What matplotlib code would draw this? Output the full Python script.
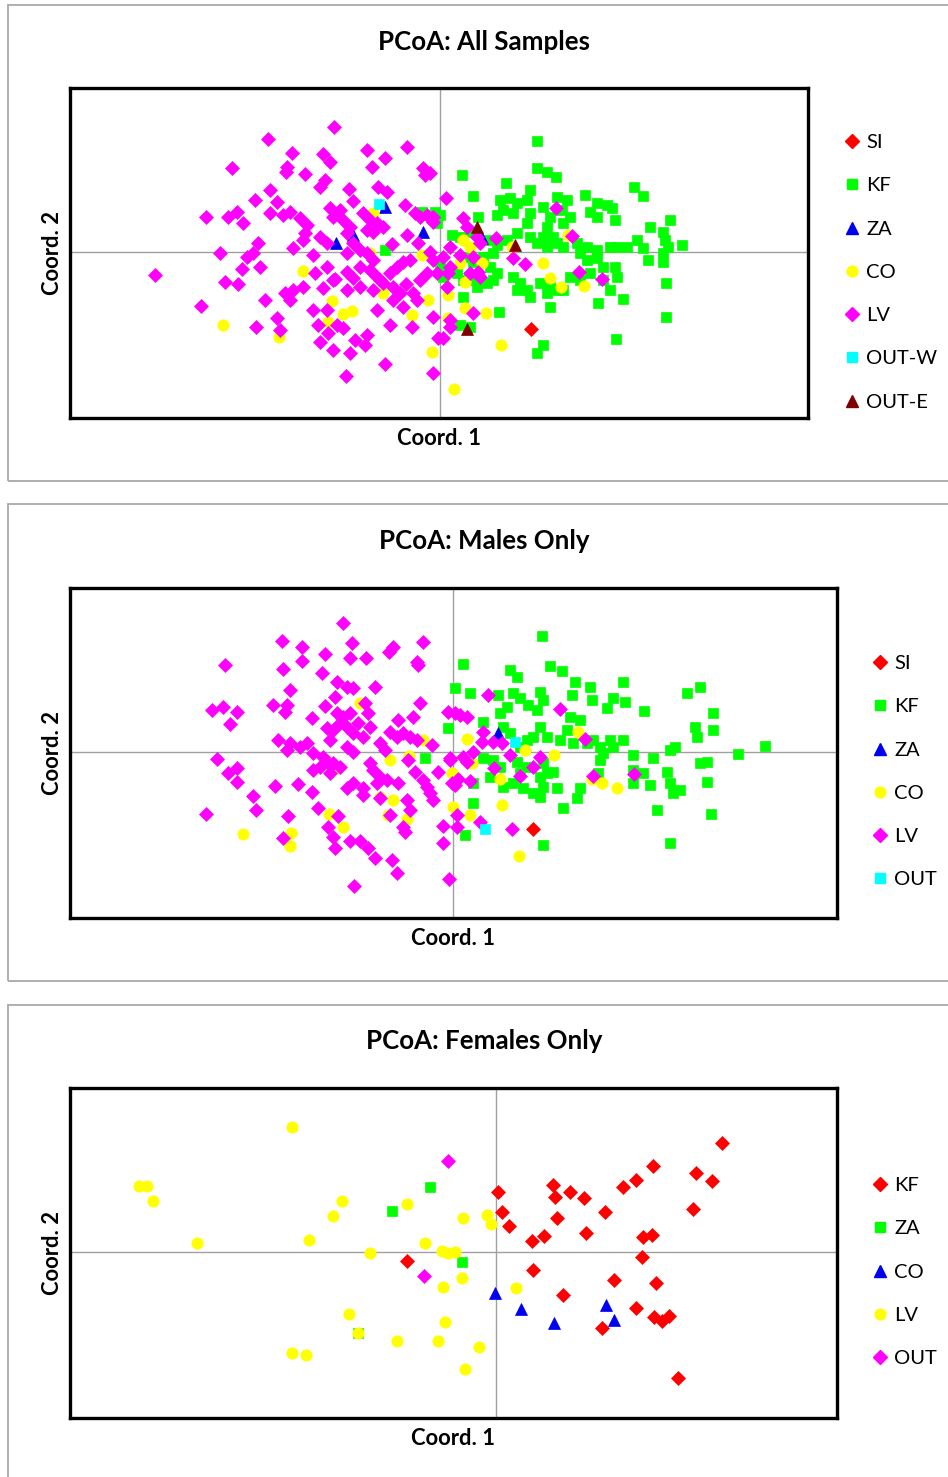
import numpy as np
import matplotlib
matplotlib.use("Agg")
import matplotlib.pyplot as plt
from matplotlib.lines import Line2D
from matplotlib.patches import Rectangle

# ---------------------------------------------------------------- data
# PCoA: All Samples  (Coord. 1, Coord. 2)
all_si = [(0.091, -0.077)]
all_kf = [(-0.055, 0.002), (-0.018, 0.040), (-0.005, 0.040), (0.097, 0.111), (0.022, 0.077),
          (0.097, 0.084), (0.107, 0.080), (0.116, 0.075), (0.066, 0.069), (0.033, 0.056),
          (0.090, 0.062), (0.194, 0.065), (0.203, 0.056), (0.060, 0.052), (0.070, 0.054),
          (0.077, 0.049), (0.063, 0.042), (0.057, 0.037), (0.073, 0.039), (0.087, 0.052),
          (0.090, 0.039), (0.087, 0.029), (0.117, 0.055), (0.127, 0.052), (0.122, 0.042),
          (0.130, 0.035), (0.123, 0.029), (0.145, 0.057), (0.157, 0.049), (0.167, 0.047),
          (0.172, 0.044), (0.150, 0.040), (0.157, 0.035), (0.175, 0.032), (0.038, 0.035),
          (0.103, 0.045), (0.110, 0.035), (0.107, 0.025), (0.113, 0.015), (0.103, 0.015),
          (0.230, 0.032), (0.210, 0.025), (0.223, 0.020), (0.225, 0.012), (0.228, 0.005),
          (0.242, 0.007), (-0.003, 0.029), (0.000, 0.037), (0.012, 0.017), (0.020, 0.015),
          (0.030, 0.020), (0.047, 0.012), (0.057, 0.007), (0.067, 0.012), (0.077, 0.019),
          (0.090, 0.015), (0.097, 0.009), (0.107, 0.005), (0.117, 0.009), (0.123, 0.005),
          (0.137, 0.009), (0.147, 0.005), (0.157, 0.002), (0.170, 0.005), (0.177, 0.005),
          (0.187, 0.005), (0.197, 0.012), (0.203, 0.004), (0.208, -0.008), (0.223, -0.001),
          (0.223, -0.010), (0.140, -0.001), (0.147, -0.008), (0.157, -0.006), (0.163, -0.015),
          (0.175, -0.015), (0.027, -0.005), (0.033, -0.010), (0.043, -0.005), (0.053, -0.001),
          (0.050, -0.015), (0.057, -0.021), (0.053, -0.028), (0.047, -0.031), (0.017, -0.021),
          (0.023, -0.028), (0.033, -0.028), (0.037, -0.035), (0.073, -0.025), (0.080, -0.031),
          (0.087, -0.038), (0.090, -0.045), (0.077, -0.038), (0.100, -0.031), (0.107, -0.041),
          (0.117, -0.038), (0.123, -0.038), (0.110, -0.035), (0.130, -0.025), (0.140, -0.028),
          (0.150, -0.021), (0.163, -0.028), (0.170, -0.038), (0.177, -0.025), (0.023, -0.045),
          (0.110, -0.055), (0.158, -0.051), (0.183, -0.047), (0.226, -0.031), (0.226, -0.065),
          (0.059, -0.060), (0.020, -0.073), (0.030, -0.075), (0.103, -0.093), (0.097, -0.101),
          (0.176, -0.087), (0.000, -0.015), (0.003, -0.025)]
all_za = [(-0.104, 0.009), (-0.017, 0.020), (-0.087, 0.017), (-0.055, 0.045), (0.042, 0.014)]
all_co = [(-0.217, -0.073), (-0.161, -0.085), (-0.137, -0.019), (-0.108, -0.049), (-0.097, -0.062),
          (-0.088, -0.059), (-0.112, -0.070), (-0.067, 0.039), (-0.018, -0.003), (-0.012, -0.048),
          (-0.028, -0.063), (-0.008, -0.100), (-0.070, -0.001), (-0.057, -0.041), (0.023, 0.012),
          (0.030, 0.005), (0.020, -0.011), (0.042, -0.011), (0.025, -0.030), (0.008, -0.043),
          (0.025, -0.056), (0.046, -0.061), (0.008, -0.066), (0.061, -0.093), (0.014, -0.137),
          (0.103, -0.011), (0.110, -0.026), (0.121, -0.035), (0.144, -0.034), (0.128, 0.017),
          (0.072, 0.005)]
all_lv = [(-0.106, 0.125), (-0.172, 0.113), (-0.033, 0.105), (-0.148, 0.099), (-0.117, 0.098),
          (-0.110, 0.090), (-0.073, 0.102), (-0.055, 0.094), (-0.208, 0.084), (-0.153, 0.085),
          (-0.154, 0.080), (-0.135, 0.078), (-0.068, 0.085), (-0.017, 0.084), (-0.015, 0.077),
          (-0.115, 0.072), (-0.120, 0.065), (-0.170, 0.062), (-0.091, 0.063), (-0.062, 0.065),
          (-0.053, 0.060), (-0.185, 0.052), (-0.163, 0.050), (-0.170, 0.039), (-0.150, 0.040),
          (-0.157, 0.037), (-0.087, 0.051), (-0.035, 0.047), (-0.203, 0.040), (-0.212, 0.035),
          (-0.197, 0.029), (-0.234, 0.035), (-0.140, 0.034), (-0.133, 0.027), (-0.135, 0.019),
          (-0.137, 0.012), (-0.110, 0.044), (-0.100, 0.042), (-0.107, 0.035), (-0.097, 0.032),
          (-0.090, 0.025), (-0.093, 0.019), (-0.077, 0.039), (-0.070, 0.032), (-0.063, 0.029),
          (-0.057, 0.025), (-0.073, 0.022), (-0.067, 0.020), (-0.025, 0.039), (-0.020, 0.035),
          (-0.013, 0.037), (-0.033, 0.017), (-0.022, 0.009), (-0.182, 0.009), (-0.147, 0.004),
          (-0.120, 0.015), (-0.113, 0.009), (-0.127, -0.003), (-0.087, 0.009), (-0.080, 0.002),
          (-0.093, -0.001), (-0.073, -0.001), (-0.067, -0.008), (-0.048, 0.008), (-0.220, -0.001),
          (-0.193, -0.005), (-0.187, -0.001), (-0.010, 0.000), (-0.007, -0.008), (-0.198, -0.017),
          (-0.285, -0.023), (-0.180, -0.015), (-0.125, -0.021), (-0.113, -0.015), (-0.107, -0.028),
          (-0.093, -0.020), (-0.087, -0.026), (-0.080, -0.015), (-0.070, -0.018), (-0.063, -0.025),
          (-0.057, -0.031), (-0.050, -0.021), (-0.043, -0.015), (-0.037, -0.010), (-0.030, -0.008),
          (-0.047, -0.035), (-0.040, -0.041), (-0.034, -0.032), (-0.027, -0.041), (-0.020, -0.028),
          (-0.013, -0.021), (-0.215, -0.030), (-0.202, -0.032), (-0.147, -0.038), (-0.137, -0.035),
          (-0.117, -0.036), (-0.105, -0.027), (-0.093, -0.038), (-0.080, -0.035), (-0.067, -0.038),
          (-0.060, -0.028), (-0.175, -0.048), (-0.155, -0.041), (-0.150, -0.048), (-0.047, -0.048),
          (-0.037, -0.055), (-0.023, -0.048), (-0.239, -0.054), (-0.127, -0.058), (-0.113, -0.058),
          (-0.063, -0.058), (-0.007, -0.065), (-0.163, -0.066), (-0.160, -0.078), (-0.184, -0.075),
          (-0.122, -0.073), (-0.112, -0.081), (-0.103, -0.073), (-0.097, -0.076), (-0.050, -0.073),
          (-0.028, -0.075), (-0.120, -0.090), (-0.107, -0.098), (-0.090, -0.101), (-0.085, -0.088),
          (-0.075, -0.093), (-0.073, -0.083), (-0.002, -0.086), (-0.055, -0.112), (-0.007, -0.121),
          (-0.094, -0.124), (0.006, 0.054), (0.116, 0.044), (0.132, 0.016), (0.139, -0.020),
          (0.162, -0.027), (0.056, 0.014), (0.073, -0.006), (0.085, -0.012), (0.023, 0.034),
          (0.027, 0.025), (0.037, 0.015), (0.040, 0.009), (0.033, -0.005), (0.010, 0.005),
          (0.003, -0.005), (-0.003, -0.021), (0.020, -0.003), (0.010, -0.015), (0.008, -0.021),
          (0.007, -0.035), (0.030, -0.021), (0.038, -0.020), (0.040, -0.025), (0.033, -0.061),
          (0.010, -0.068), (0.010, -0.075), (0.003, -0.086), (-0.010, 0.079), (-0.007, 0.035),
          (-0.007, 0.030)]
all_out_w = [(-0.061, 0.048)]
all_out_e = [(0.037, 0.025), (0.075, 0.007), (0.027, -0.077)]

# PCoA: Males Only
male_si = [(0.080, -0.077)]
male_kf = [(0.002, 0.064), (-0.005, 0.024), (-0.028, -0.006), (0.089, 0.116), (0.010, 0.088),
           (0.057, 0.082), (0.064, 0.075), (0.097, 0.086), (0.109, 0.081), (0.122, 0.070),
           (0.137, 0.065), (0.170, 0.070), (0.017, 0.059), (0.045, 0.057), (0.060, 0.059),
           (0.067, 0.054), (0.087, 0.060), (0.090, 0.052), (0.075, 0.047), (0.119, 0.057),
           (0.139, 0.052), (0.160, 0.054), (0.172, 0.050), (0.154, 0.044), (0.234, 0.059),
           (0.247, 0.065), (0.260, 0.039), (0.260, 0.022), (0.242, 0.025), (0.244, 0.015),
           (0.191, 0.041), (0.030, 0.030), (0.047, 0.039), (0.054, 0.045), (0.050, 0.025),
           (0.057, 0.019), (0.084, 0.042), (0.087, 0.025), (0.080, 0.015), (0.094, 0.015),
           (0.074, 0.012), (0.067, 0.005), (0.117, 0.035), (0.127, 0.032), (0.114, 0.022),
           (0.107, 0.012), (0.120, 0.009), (0.134, 0.009), (0.140, 0.012), (0.147, 0.005),
           (0.157, 0.012), (0.170, 0.012), (0.160, 0.005), (0.150, -0.001), (0.180, -0.003),
           (0.200, -0.006), (0.217, 0.002), (0.222, 0.005), (0.285, -0.002), (0.312, 0.006),
           (0.247, -0.011), (0.254, -0.010), (0.030, -0.006), (0.040, -0.008), (0.037, -0.025),
           (0.047, -0.015), (0.064, -0.010), (0.067, -0.021), (0.074, -0.015), (0.090, -0.011),
           (0.094, -0.021), (0.100, -0.020), (0.087, -0.025), (0.090, -0.035), (0.147, -0.008),
           (0.145, -0.021), (0.180, -0.018), (0.190, -0.021), (0.180, -0.031), (0.197, -0.033),
           (0.214, -0.020), (0.217, -0.031), (0.220, -0.041), (0.227, -0.038), (0.254, -0.030),
           (0.050, -0.035), (0.060, -0.031), (0.070, -0.036), (0.080, -0.041), (0.087, -0.045),
           (0.104, -0.036), (0.127, -0.036), (0.124, -0.046), (0.020, -0.031), (0.020, -0.051),
           (0.110, -0.056), (0.204, -0.058), (0.258, -0.062), (0.012, -0.083), (0.090, -0.093),
           (0.217, -0.091)]
male_za = [(0.045, 0.019)]
male_co = [(-0.093, 0.049), (-0.030, 0.012), (-0.063, -0.008), (-0.044, -0.004), (-0.001, -0.021),
           (-0.060, -0.048), (-0.073, -0.045), (0.000, -0.055), (-0.065, -0.063), (-0.046, -0.067),
           (-0.124, -0.062), (-0.110, -0.075), (-0.210, -0.082), (-0.162, -0.081), (-0.163, -0.094),
           (-0.116, -0.016), (0.014, 0.013), (0.019, -0.011), (0.072, 0.002), (0.101, -0.003),
           (0.125, 0.020), (0.047, -0.027), (0.139, -0.027), (0.149, -0.031), (0.164, -0.036),
           (0.049, -0.053), (0.017, -0.063), (0.066, -0.104)]
male_lv = [(-0.110, 0.129), (-0.171, 0.111), (-0.151, 0.105), (-0.128, 0.098), (-0.101, 0.109),
           (-0.103, 0.094), (-0.087, 0.094), (-0.060, 0.105), (-0.064, 0.100), (-0.030, 0.110),
           (-0.036, 0.090), (-0.035, 0.087), (-0.228, 0.087), (-0.170, 0.083), (-0.151, 0.091),
           (-0.131, 0.079), (-0.116, 0.070), (-0.106, 0.065), (-0.100, 0.064), (-0.078, 0.065),
           (-0.163, 0.062), (-0.118, 0.055), (-0.180, 0.047), (-0.166, 0.047), (-0.168, 0.040),
           (-0.241, 0.042), (-0.230, 0.045), (-0.216, 0.040), (-0.223, 0.028), (-0.128, 0.046),
           (-0.088, 0.049), (-0.085, 0.039), (-0.033, 0.049), (-0.116, 0.039), (-0.110, 0.035),
           (-0.103, 0.039), (-0.113, 0.029), (-0.106, 0.025), (-0.100, 0.019), (-0.120, 0.022),
           (-0.141, 0.034), (-0.095, 0.029), (-0.083, 0.025), (-0.090, 0.015), (-0.055, 0.032),
           (-0.040, 0.035), (-0.063, 0.020), (-0.056, 0.015), (-0.050, 0.019), (-0.043, 0.015),
           (-0.036, 0.012), (-0.021, 0.007), (-0.126, 0.024), (-0.123, 0.012), (-0.175, 0.012),
           (-0.163, 0.009), (-0.166, 0.002), (-0.153, 0.005), (-0.146, 0.009), (-0.140, -0.001),
           (-0.073, 0.009), (-0.068, 0.002), (-0.106, 0.005), (-0.100, 0.000), (-0.130, -0.005),
           (-0.126, -0.010), (-0.120, -0.011), (-0.113, -0.015), (-0.133, -0.015), (-0.140, -0.018),
           (-0.123, -0.021), (-0.236, -0.007), (-0.216, -0.016), (-0.225, -0.021), (-0.216, -0.030),
           (-0.045, -0.008), (-0.038, -0.020), (-0.030, -0.028), (-0.026, -0.035), (-0.023, -0.041),
           (-0.020, -0.048), (-0.083, -0.011), (-0.080, -0.018), (-0.073, -0.025), (-0.066, -0.028),
           (-0.076, -0.031), (-0.015, -0.020), (-0.003, -0.008), (-0.001, -0.031), (-0.178, -0.034),
           (-0.155, -0.032), (-0.141, -0.040), (-0.106, -0.036), (-0.100, -0.031), (-0.090, -0.036),
           (-0.090, -0.043), (-0.073, -0.046), (-0.055, -0.031), (-0.200, -0.044), (-0.197, -0.058),
           (-0.247, -0.062), (-0.165, -0.064), (-0.135, -0.056), (-0.115, -0.064), (-0.063, -0.063),
           (-0.046, -0.048), (-0.043, -0.058), (-0.170, -0.086), (-0.125, -0.075), (-0.120, -0.085),
           (-0.118, -0.096), (-0.103, -0.089), (-0.093, -0.089), (-0.085, -0.096), (-0.078, -0.106),
           (-0.061, -0.108), (-0.056, -0.121), (-0.050, -0.075), (-0.048, -0.080), (-0.010, -0.074),
           (-0.010, -0.091), (-0.004, -0.127), (-0.099, -0.134), (0.002, 0.039), (-0.005, 0.040),
           (0.035, 0.057), (0.107, 0.043), (0.007, 0.037), (0.014, 0.035), (0.030, 0.020),
           (0.029, 0.010), (0.040, 0.010), (0.049, 0.009), (0.020, 0.000), (0.057, -0.003),
           (0.087, -0.005), (0.080, -0.015), (-0.003, -0.006), (0.010, -0.005), (0.014, -0.010),
           (0.132, 0.013), (0.041, -0.016), (0.067, -0.024), (0.140, -0.024), (0.181, -0.022),
           (0.005, -0.027), (0.002, -0.033), (0.017, -0.029), (0.004, -0.063), (0.004, -0.075),
           (0.027, -0.070), (0.059, -0.077)]
male_out = [(0.062, 0.010), (0.032, -0.077)]

# PCoA: Females Only
female_kf = [(-0.089, -0.009), (0.226, 0.109), (0.157, 0.086), (0.200, 0.079), (0.216, 0.071),
             (0.002, 0.060), (0.057, 0.067), (0.059, 0.055), (0.074, 0.060), (0.088, 0.054),
             (0.127, 0.065), (0.140, 0.072), (0.197, 0.043), (0.006, 0.040), (0.013, 0.026),
             (0.061, 0.034), (0.109, 0.040), (0.090, 0.019), (0.036, 0.011), (0.048, 0.016),
             (0.147, 0.015), (0.156, 0.017), (0.146, -0.005), (0.037, -0.018), (0.118, -0.028),
             (0.160, -0.031), (0.067, -0.043), (0.140, -0.056), (0.158, -0.065), (0.166, -0.069),
             (0.173, -0.064), (0.106, -0.076), (0.182, -0.126)]
female_za = [(-0.066, 0.065), (-0.104, 0.041), (-0.034, -0.010), (-0.138, -0.081)]
female_co = [(-0.001, -0.041), (0.025, -0.057), (0.058, -0.071), (0.110, -0.053), (0.118, -0.068)]
female_lv = [(-0.204, 0.125), (-0.357, 0.066), (-0.349, 0.066), (-0.343, 0.051), (-0.299, 0.009),
             (-0.154, 0.051), (-0.163, 0.036), (-0.187, 0.012), (-0.126, -0.001), (-0.089, 0.048),
             (-0.071, 0.009), (-0.054, 0.001), (-0.048, -0.001), (-0.041, 0.000), (-0.033, 0.034),
             (-0.009, 0.037), (-0.005, 0.028), (-0.053, -0.035), (-0.034, -0.026), (0.020, -0.036),
             (-0.147, -0.062), (-0.138, -0.081), (-0.099, -0.089), (-0.058, -0.089), (-0.051, -0.070),
             (-0.204, -0.101), (-0.190, -0.103), (-0.017, -0.095), (-0.031, -0.117)]
female_out = [(-0.048, 0.091), (-0.072, -0.024)]

titles = ["PCoA: All Samples", "PCoA: Males Only", "PCoA: Females Only"]
xlims = [(-0.370, 0.368), (-0.383, 0.384), (-0.426, 0.341)]
ylims = [(-0.166, 0.164), (-0.166, 0.164), (-0.166, 0.164)]

# ---------------------------------------------------------------- styles
RED, GREEN, BLUE = "#FF0000", "#00FF00", "#0000F0"
YELLOW, MAGENTA, CYAN, MAROON = "#FFFF00", "#FF00FF", "#00FFFF", "#7F0000"
MK = {"diamond": ("D", 7.6), "square": ("s", 7.3), "triangle": ("^", 8.4), "circle": ("o", 8.2)}

panels = [
    [("SI", all_si, "diamond", RED), ("KF", all_kf, "square", GREEN),
     ("ZA", all_za, "triangle", BLUE), ("CO", all_co, "circle", YELLOW),
     ("LV", all_lv, "diamond", MAGENTA), ("OUT-W", all_out_w, "square", CYAN),
     ("OUT-E", all_out_e, "triangle", MAROON)],
    [("SI", male_si, "diamond", RED), ("KF", male_kf, "square", GREEN),
     ("ZA", male_za, "triangle", BLUE), ("CO", male_co, "circle", YELLOW),
     ("LV", male_lv, "diamond", MAGENTA), ("OUT", male_out, "square", CYAN)],
    [("KF", female_kf, "diamond", RED), ("ZA", female_za, "square", GREEN),
     ("CO", female_co, "triangle", BLUE), ("LV", female_lv, "circle", YELLOW),
     ("OUT", female_out, "diamond", MAGENTA)],
]

# ---------------------------------------------------------------- layout (pixels)
W, H = 948, 1477
axes_px = [(70, 88, 808, 418), (70, 588, 837, 918), (70, 1088, 837, 1418)]
frame_px = [(8, 5, 1000, 481), (8, 504, 1000, 981), (8, 1005, 1000, 1490)]
title_y = [42, 541, 1041]
legend_px = [(845, 134), (873, 655), (873, 1177)]

plt.rcParams["font.family"] = ["Lato", "DejaVu Sans"]
fig = plt.figure(figsize=(W / 100, H / 100), dpi=100)
fig.patch.set_facecolor("white")

for i in range(3):
    fx0, fy0, fx1, fy1 = frame_px[i]
    fig.patches.append(Rectangle((fx0 / W, 1 - fy1 / H), (fx1 - fx0) / W, (fy1 - fy0) / H,
                                 transform=fig.transFigure, fill=False,
                                 edgecolor="#A8A8A8", linewidth=1.3, zorder=0))

    x0, y0, x1, y1 = axes_px[i]
    ax = fig.add_axes([x0 / W, 1 - y1 / H, (x1 - x0) / W, (y1 - y0) / H])
    ax.set_xlim(*xlims[i])
    ax.set_ylim(*ylims[i])
    ax.set_xticks([])
    ax.set_yticks([])
    for sp in ax.spines.values():
        sp.set_linewidth(2.4)
        sp.set_color("black")
    ax.axhline(0, color="#A0A0A0", linewidth=1.0, zorder=1)
    ax.axvline(0, color="#A0A0A0", linewidth=1.0, zorder=1)

    handles = []
    for k, (name, pts, shape, color) in enumerate(panels[i]):
        m, ms = MK[shape]
        arr = np.array(pts)
        ax.plot(arr[:, 0], arr[:, 1], linestyle="none", marker=m, markersize=ms,
                markerfacecolor=color, markeredgecolor=color, markeredgewidth=0.5,
                zorder=2 + k)
        handles.append(Line2D([], [], linestyle="none", marker=m, markersize=ms * 0.95,
                              markerfacecolor=color, markeredgecolor=color, label=name))

    ax.set_xlabel("Coord. 1", fontsize=15.8, fontweight="bold", labelpad=7)
    ax.set_ylabel("Coord. 2", fontsize=15.8, fontweight="bold", labelpad=5)

    fig.text(484 / W, 1 - title_y[i] / H, titles[i], fontsize=18.6, fontweight="bold",
             ha="center", va="center")

    lx, ly = legend_px[i]
    ax.legend(handles=handles, loc="upper left", bbox_to_anchor=(lx / W, 1 - ly / H),
              bbox_transform=fig.transFigure, frameon=False, fontsize=14.5,
              borderpad=0, borderaxespad=0, handlelength=0.7, handletextpad=0.35,
              labelspacing=1.3)

fig.savefig("out.png", dpi=100, facecolor="white")
